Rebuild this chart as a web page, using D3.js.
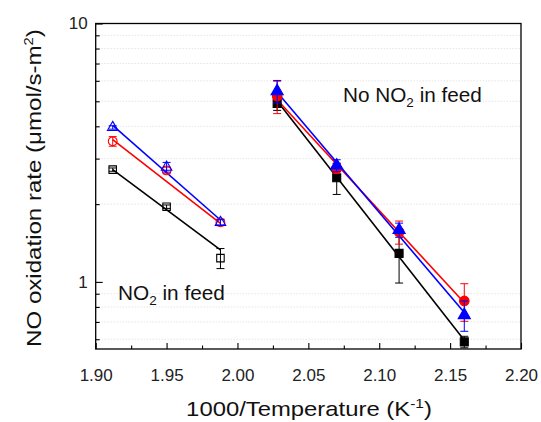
<!DOCTYPE html>
<html>
<head>
<meta charset="utf-8">
<script src="https://cdn.jsdelivr.net/npm/d3@7"></script>
<style>
  html, body { margin: 0; padding: 0; background: #fff; }
  svg { display: block; font-family: "Liberation Sans", Arial, sans-serif; }
</style>
</head>
<body>
<svg id="chart" width="541" height="422"></svg>
<script>
// ---- Data ----
const xLeft = [1.912, 1.950, 1.988];
const leftBlack = [2.72, 1.955, 1.236];
const leftBlackErr = [0.04, 0.03, 0.11];
const leftRed = [3.50, 2.70, 1.70];
const leftRedErr = [0.15, 0.08, 0.05];
const leftBlue = [3.96, 2.78, 1.70];
const leftBlueErr = [0.06, 0.12, 0.04];

const xRight = [2.028, 2.070, 2.114, 2.160];
const rightBlack = [4.91, 2.53, 1.29, 0.586];
const rightBlackErr = [0.30, 0.35, 0.30, 0.03];
const rightRed = [5.23, 2.75, 1.56, 0.844];
const rightRedErr = [0.75, 0.12, 0.16, 0.14];
const rightBlue = [5.47, 2.82, 1.588, 0.744];
const rightBlueErr = [0.55, 0.15, 0.10, 0.10];

// fitted (Arrhenius) line end values
const fitXLeft = [1.912, 1.988];
const fitLeftBlack = [2.72, 1.331];
const fitLeftRed = [3.55, 1.684];
const fitLeftBlue = [4.035, 1.736];
const fitXRight = [2.028, 2.160];
const fitRightBlack = [5.01, 0.595];
const fitRightRed = [5.07, 0.830];
const fitRightBlue = [5.42, 0.761];

const xTicks = [1.90, 1.95, 2.00, 2.05, 2.10, 2.15, 2.20];
const xMinorTicks = [1.925, 1.975, 2.025, 2.075, 2.125, 2.175];
const yTicks = [1, 10];
const yMinorTicks = [0.6, 0.7, 0.8, 0.9, 2, 3, 4, 5, 6, 7, 8, 9];

const BLACK = "#000000", RED = "#ff0000", BLUE = "#0000ff";

// ---- Layout ----
const L = 95.7, R = 521, T = 23.5, B = 349;
const svg = d3.select("#chart");
const x = d3.scaleLinear().domain([1.90, 2.20]).range([L, R]);
const y = d3.scaleLog().domain([0.55, 10]).range([B, T]);

// horizontally stretch a text element (anchored) to a target width
function fitWidth(sel, ax, ay, target, rot) {
  const w = sel.node().getBBox().width;
  const s = target / w;
  sel.attr("x", 0).attr("y", 0)
     .attr("transform", `translate(${ax},${ay})${rot ? " rotate(" + rot + ")" : ""} scale(${s},1)`);
}

// grid
svg.append("g").selectAll("line").data(yMinorTicks).join("line")
  .attr("x1", L).attr("x2", R)
  .attr("y1", d => y(d)).attr("y2", d => y(d))
  .attr("stroke", "#cfcfcf").attr("stroke-width", 0.8)
  .attr("stroke-dasharray", "1,2");

// axes
const xAxis = svg.append("g").attr("transform", `translate(0,${B})`)
  .call(d3.axisBottom(x).tickValues(xTicks).tickFormat(d3.format(".2f"))
        .tickSize(-6).tickPadding(20));
const xAxisMinor = svg.append("g").attr("transform", `translate(0,${B})`)
  .call(d3.axisBottom(x).tickValues(xMinorTicks).tickFormat("").tickSize(-3.5));
const yAxis = svg.append("g").attr("transform", `translate(${L},0)`)
  .call(d3.axisLeft(y).tickValues(yTicks).tickFormat(d3.format("d"))
        .tickSize(-7).tickPadding(8));
const yAxisMinor = svg.append("g").attr("transform", `translate(${L},0)`)
  .call(d3.axisLeft(y).tickValues(yMinorTicks).tickFormat("").tickSize(-4));
[xAxis, xAxisMinor, yAxis, yAxisMinor].forEach(g => {
  g.select(".domain").remove();
  g.selectAll("line").attr("stroke", "#000").attr("stroke-width", 1.1);
  g.selectAll("text").attr("font-size", 17).attr("fill", "#222")
   .attr("font-family", "Liberation Sans, Arial, sans-serif");
});

// frame
svg.append("rect").attr("x", L).attr("y", T).attr("width", R - L).attr("height", B - T)
  .attr("fill", "none").attr("stroke", "#000").attr("stroke-width", 1.3);

// series definitions
const series = [
  {xs: xLeft, v: leftBlack, e: leftBlackErr, fx: fitXLeft, f: fitLeftBlack, c: BLACK, sym: d3.symbolSquare, size: 56, filled: false},
  {xs: xLeft, v: leftRed, e: leftRedErr, fx: fitXLeft, f: fitLeftRed, c: RED, sym: d3.symbolCircle, size: 60, filled: false},
  {xs: xLeft, v: leftBlue, e: leftBlueErr, fx: fitXLeft, f: fitLeftBlue, c: BLUE, sym: d3.symbolTriangle, size: 48, filled: false},
  {xs: xRight, v: rightBlack, e: rightBlackErr, fx: fitXRight, f: fitRightBlack, c: BLACK, sym: d3.symbolSquare, size: 64, filled: true},
  {xs: xRight, v: rightRed, e: rightRedErr, fx: fitXRight, f: fitRightRed, c: RED, sym: d3.symbolCircle, size: 72, filled: true},
  {xs: xRight, v: rightBlue, e: rightBlueErr, fx: fitXRight, f: fitRightBlue, c: BLUE, sym: d3.symbolTriangle, size: 64, filled: true}
];

const line = d3.line().x(d => x(d[0])).y(d => y(d[1]));
const gPlot = svg.append("g");

// fit lines
series.forEach(s => {
  gPlot.append("path").datum(s.fx.map((xx, i) => [xx, s.f[i]]))
    .attr("d", line).attr("fill", "none").attr("stroke", s.c).attr("stroke-width", 1.6);
});

// error bars + markers
const cap = 4;
series.forEach(s => {
  const pts = s.xs.map((xx, i) => ({x: xx, v: s.v[i], e: s.e[i]}));
  const g = gPlot.append("g");
  const eb = g.selectAll("g.eb").data(pts).join("g").attr("class", "eb")
    .attr("stroke", s.c).attr("stroke-width", 1);
  eb.append("line").attr("x1", d => x(d.x)).attr("x2", d => x(d.x))
    .attr("y1", d => y(d.v + d.e)).attr("y2", d => y(d.v - d.e));
  eb.append("line").attr("x1", d => x(d.x) - cap).attr("x2", d => x(d.x) + cap)
    .attr("y1", d => y(d.v + d.e)).attr("y2", d => y(d.v + d.e));
  eb.append("line").attr("x1", d => x(d.x) - cap).attr("x2", d => x(d.x) + cap)
    .attr("y1", d => y(d.v - d.e)).attr("y2", d => y(d.v - d.e));
  g.selectAll("path.m").data(pts).join("path").attr("class", "m")
    .attr("d", d3.symbol().type(s.sym).size(s.size))
    .attr("transform", d => `translate(${x(d.x)},${y(d.v)})`)
    .attr("fill", s.filled ? s.c : "none")
    .attr("stroke", s.c).attr("stroke-width", 1.1);
});

// annotations
const t1 = svg.append("text").attr("font-size", 20).attr("fill", "#111");
t1.append("tspan").text("No NO");
t1.append("tspan").text("2").attr("font-size", 13).attr("dy", 5);
t1.append("tspan").text(" in feed").attr("dy", -5);
fitWidth(t1, 343, 102, 139);

const t2 = svg.append("text").attr("font-size", 20).attr("fill", "#111");
t2.append("tspan").text("NO");
t2.append("tspan").text("2").attr("font-size", 13).attr("dy", 5);
t2.append("tspan").text(" in feed").attr("dy", -5);
fitWidth(t2, 118, 300, 107);

// axis titles
const xt = svg.append("text").attr("text-anchor", "middle")
  .attr("font-size", 20).attr("fill", "#111");
xt.append("tspan").text("1000/Temperature (K");
xt.append("tspan").text("-1").attr("font-size", 13).attr("dy", -8);
xt.append("tspan").text(")").attr("dy", 8);
fitWidth(xt, 309, 416, 246);

const yt = svg.append("text").attr("text-anchor", "middle")
  .attr("font-size", 21).attr("fill", "#111");
yt.append("tspan").text("NO oxidation rate (\u03bcmol/s-m");
yt.append("tspan").text("2").attr("font-size", 13).attr("dy", -8);
yt.append("tspan").text(")").attr("dy", 8);
fitWidth(yt, 40.5, 188, 318, -90);
</script>
</body>
</html>
